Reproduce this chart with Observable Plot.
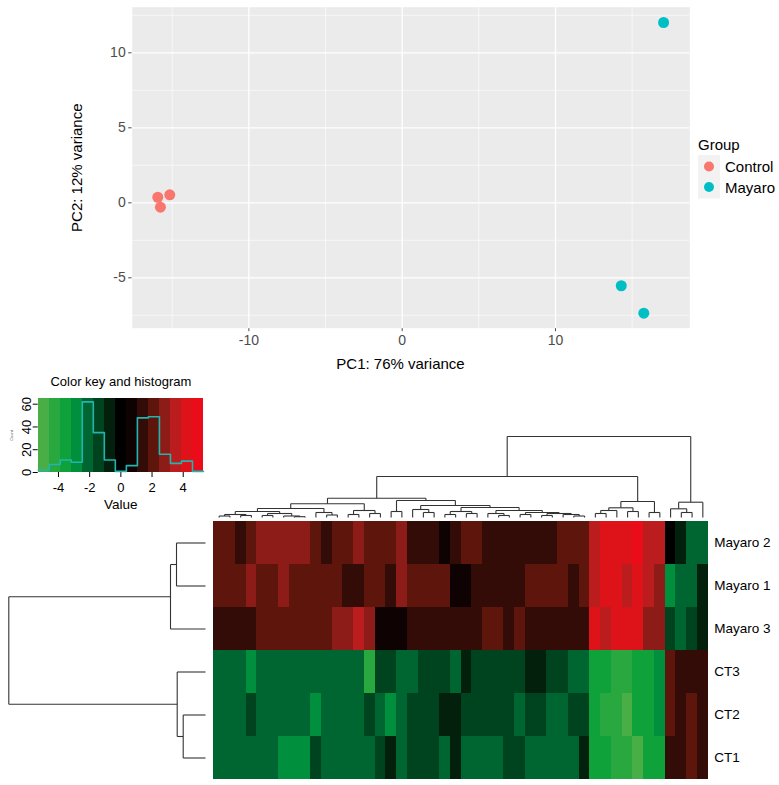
<!DOCTYPE html>
<html>
<head>
<meta charset="utf-8">
<script src="https://cdn.jsdelivr.net/npm/d3@7"></script>
<script src="https://cdn.jsdelivr.net/npm/@observablehq/plot@0.6"></script>
<style>
  html, body { margin: 0; padding: 0; background: #ffffff; }
  #fig { position: relative; width: 779px; height: 785px; overflow: hidden; }
  #fig > * { position: absolute; }
</style>
</head>
<body>
<div id="fig"></div>
<script>
// ---------- PCA of the six samples ----------
const pcaGroup = ["Control", "Control", "Control", "Mayaro", "Mayaro", "Mayaro"];
const pc1 = [-15.94, -15.77, -15.16, 17.05, 14.29, 15.76];
const pc2 = [0.37, -0.29, 0.53, 12.02, -5.53, -7.36];
const groups = ["Control", "Mayaro"];
const groupColors = ["#F8766D", "#00BFC4"];
const pcaMajorX = [-10, 0, 10];
const pcaMinorX = [-15, -5, 5, 15];
const pcaMajorY = [-5, 0, 5, 10];
const pcaMinorY = [-7.5, -2.5, 2.5, 7.5, 12.5];

// ---------- heatmap: log2 fold changes, rows top to bottom ----------
const rowNames = ["Mayaro 2", "Mayaro 1", "Mayaro 3", "CT3", "CT2", "CT1"];
const mayaro2 = [2.1,2.1,1.4,2.1,2.8,2.8,2.8,2.8,2.8,2.1, 1.4,2.1,2.1,2.8,2.1,2.1,2.1,2.8,1.4,1.4, 1.4,0.7,1.4,2.1,2.1,1.4,1.4,1.4,1.4,1.4, 1.4,1.4,2.1,2.1,2.1,3.5,4.2,4.2,4.2,4.9, 3.5,3.5,0.0,-0.7,-2.1,-2.1];
const mayaro1 = [2.1,2.1,2.1,2.8,2.1,2.1,2.8,2.1,2.1,2.1, 2.1,2.1,1.4,1.4,2.1,2.1,1.4,2.8,2.1,2.1, 2.1,2.1,0.7,0.7,1.4,1.4,1.4,1.4,1.4,2.1, 2.1,2.1,2.1,1.4,2.1,3.5,4.2,4.2,3.5,4.2, 3.5,2.8,-2.8,-2.1,-2.1,-0.7];
const mayaro3 = [1.4,1.4,1.4,1.4,2.1,2.1,2.1,2.1,2.1,2.1, 2.1,2.8,2.8,3.5,2.8,0.7,0.7,0.7,1.4,1.4, 1.4,1.4,1.4,1.4,1.4,2.1,2.1,1.4,2.1,1.4, 1.4,1.4,1.4,1.4,1.4,4.2,3.5,4.2,4.2,4.2, 2.8,2.8,-1.4,-2.1,-1.4,-0.7];
const ct3 = [-2.1,-2.1,-2.1,-2.8,-2.1,-2.1,-2.1,-2.1,-2.1,-2.1, -2.1,-2.1,-2.1,-2.1,-4.2,-1.4,-1.4,-2.1,-2.1,-1.4, -1.4,-1.4,-2.1,-0.7,-1.4,-1.4,-1.4,-1.4,-1.4,-0.7, -0.7,-1.4,-1.4,-2.1,-2.1,-3.5,-3.5,-4.2,-4.2,-3.5, -3.5,-2.8,2.1,1.4,1.4,1.4];
const ct2 = [-2.1,-2.1,-2.1,-1.4,-2.1,-2.1,-2.1,-2.1,-2.1,-2.8, -2.1,-2.1,-2.1,-2.1,-1.4,-2.1,-2.8,-2.1,-1.4,-1.4, -1.4,-0.7,-0.7,-1.4,-1.4,-1.4,-1.4,-1.4,-2.1,-1.4, -1.4,-2.1,-2.1,-1.4,-1.4,-3.5,-4.2,-4.2,-4.9,-3.5, -3.5,-2.8,2.1,1.4,2.1,1.4];
const ct1 = [-2.1,-2.1,-2.1,-2.1,-2.1,-2.1,-2.8,-2.8,-2.8,-1.4, -2.1,-2.1,-2.1,-2.1,-2.1,-1.4,-0.7,-2.1,-1.4,-1.4, -1.4,-2.1,-0.7,-2.1,-2.1,-2.1,-2.1,-1.4,-1.4,-2.1, -2.1,-2.1,-2.1,-2.1,-0.7,-3.5,-3.5,-4.2,-4.2,-4.9, -3.5,-3.5,1.4,1.4,2.1,1.4];
const rowValues = [mayaro2, mayaro1, mayaro3, ct3, ct2, ct1];

// colour key: 16 breaks, 15 colours from green through black to red
const keyBreaks = d3.range(16).map(i => -5.3 + i * 10.6 / 15);
const keyColors = ["#48AE45","#28A83F","#0FA23B","#008F3C","#006631","#00441F","#03200C","#000000",
                   "#0E0302","#330C07","#5E150B","#8D1B17","#BB1C1E","#DE1219","#EA0D19"];
const keyTicksX = [-4, -2, 0, 2, 4];
const keyTicksY = [0, 20, 40, 60];

// column dendrogram: [merge height, left, right]; leaves are column indices
const colTree =
  [81,
    [41,
      [19.3,
        [13.7,
          [9, [6, [3, [1.5, 0, 1], [2, 2, 3]], [4, [2, 4, 5], [1.5, 6, [0.8, 7, 8]]]], [5, 9, [2.5, 10, 11]]],
          [7, [3, 12, 13], [4, 14, 15]]],
        [17,
          [6, 16, 17],
          [12, [8, 18, [5, 19, 20]],
               [10, [6, [3, 21, 22], [4, 23, 24]],
                    [7, [4, 25, [2, 26, 27]], [5, [3, 28, 29], [4, [2, 30, 31], [3, 32, [1.5, 33, 34]]]]]]]]],
      [16, [9.7, [7, [4, 35, 36], 37], [6, 38, 39]], [5, 40, 41]]],
    [15.3, [8.7, 42, [5, 43, 44]], 45]];

// row dendrogram over row indices (0 = Mayaro 2 ... 5 = CT1)
const rowTree = [196.7, [35, [29, 0, 1], 2], [28.3, 3, [22.3, 4, 5]]];

// ---------- helpers ----------
const FONT = "'Liberation Sans', Arial, Helvetica, sans-serif";
const baseStyle = {background: "transparent", fontFamily: FONT, overflow: "visible"};
const centred = {textAnchor: "middle", lineAnchor: "middle"};

function treeSegments(node, segs) {
  if (typeof node === "number") return {pos: node + 0.5, h: 0};
  const [h, a, b] = node;
  const L = treeSegments(a, segs), R = treeSegments(b, segs);
  segs.push({p1: L.pos, h1: L.h, p2: L.pos, h2: h});
  segs.push({p1: R.pos, h1: R.h, p2: R.pos, h2: h});
  segs.push({p1: L.pos, h1: h, p2: R.pos, h2: h});
  return {pos: (L.pos + R.pos) / 2, h};
}

const fig = document.getElementById("fig");
function place(node, left, top) {
  node.style.left = left + "px";
  node.style.top = top + "px";
  fig.appendChild(node);
}

// ---------- PCA scatter ----------
const pca = pcaGroup.map((g, i) => ({group: g, pc1: pc1[i], pc2: pc2[i]}));
const pcaPlot = Plot.plot({
  width: 779, height: 375,
  marginLeft: 131.7, marginRight: 89.7, marginTop: 6.7, marginBottom: 47.3,
  style: {...baseStyle, fontSize: "14px", color: "#4D4D4D"},
  x: {domain: [-17.61, 18.76], ticks: pcaMajorX, tickSize: 3.5, tickPadding: 3, tickFormat: d => String(d), label: null},
  y: {domain: [-8.36, 13.04], ticks: pcaMajorY, tickSize: 3.5, tickPadding: 3, tickFormat: d => String(d), label: null},
  color: {domain: groups, range: groupColors},
  marks: [
    Plot.frame({fill: "#EBEBEB", stroke: null}),
    Plot.ruleX(pcaMinorX, {stroke: "white", strokeWidth: 0.6}),
    Plot.ruleY(pcaMinorY, {stroke: "white", strokeWidth: 0.6}),
    Plot.ruleX(pcaMajorX, {stroke: "white", strokeWidth: 1.3}),
    Plot.ruleY(pcaMajorY, {stroke: "white", strokeWidth: 1.3}),
    Plot.dot(pca, {x: "pc1", y: "pc2", fill: "group", r: 5.5}),
    Plot.text(["PC1: 76% variance"], {text: d => d, frameAnchor: "bottom", ...centred, dx: -10.5, dy: 35.5, fontSize: 15, fill: "#000"}),
    Plot.text(["PC2: 12% variance"], {text: d => d, frameAnchor: "left", ...centred, dx: -55, rotate: -90, fontSize: 15, fill: "#000"})
  ]
});
place(pcaPlot, 0, 0);

// legend for the PCA groups
const legend = document.createElementNS("http://www.w3.org/2000/svg", "svg");
legend.setAttribute("width", 81);
legend.setAttribute("height", 70);
legend.innerHTML = `
  <text x="0" y="16" font-family="${FONT}" font-size="15" fill="#000">Group</text>
  <rect x="0" y="21" width="22" height="43.5" fill="#F2F2F2"></rect>
  ${groups.map((g, i) => `
    <circle cx="11" cy="${32.5 + i * 20.5}" r="5" fill="${groupColors[i]}"></circle>
    <text x="27" y="${38 + i * 20.5}" font-family="${FONT}" font-size="15" fill="#000">${g}</text>`).join("")}
`;
place(legend, 698, 134);

// ---------- colour key and histogram ----------
const cells = [];
rowValues.forEach((vals, r) => vals.forEach((v, c) => cells.push({row: rowNames[r], col: c, value: v})));

const bins = d3.bin().domain([keyBreaks[0], keyBreaks[15]]).thresholds(keyBreaks.slice(1, -1))(cells.map(d => d.value));
const histPts = bins.map(b => ({x: b.x0, count: b.length}));
histPts.push({x: bins[bins.length - 1].x1, count: bins[bins.length - 1].length});
const keyBands = keyBreaks.slice(0, -1).map((b, i) => ({x1: b, x2: keyBreaks[i + 1], mid: (b + keyBreaks[i + 1]) / 2}));

const colorScale = {type: "threshold", domain: keyBreaks.slice(1, -1), range: keyColors};

const keyPlot = Plot.plot({
  width: 215, height: 145,
  marginLeft: 37.7, marginRight: 12, marginTop: 28, marginBottom: 43,
  style: {...baseStyle, fontSize: "13px", color: "#000"},
  x: {domain: [keyBreaks[0], keyBreaks[15]], ticks: keyTicksX, tickSize: 5, tickPadding: 5, tickFormat: d => String(d), label: null},
  y: {domain: [0, 65], ticks: keyTicksY, tickSize: 5, tickPadding: 2, tickRotate: -90, tickFormat: d => String(d), label: null},
  color: colorScale,
  marks: [
    Plot.rect(keyBands, {x1: "x1", x2: "x2", y1: 0, y2: 65, fill: "mid", shapeRendering: "crispEdges"}),
    Plot.line(histPts, {x: "x", y: "count", curve: "step-after", stroke: "#22B5B0", strokeWidth: 1.6}),
    Plot.text(["Color key and histogram"], {text: d => d, frameAnchor: "top", ...centred, dy: -17, fontSize: 13, fill: "#000"}),
    Plot.text(["Value"], {text: d => d, frameAnchor: "bottom", ...centred, dy: 32.5, fontSize: 13.5, fill: "#000"}),
    Plot.text(["Count"], {text: d => d, frameAnchor: "left", ...centred, dx: -26, rotate: -90, fontSize: 4, fill: "#555"})
  ]
});
place(keyPlot, 0, 370);

// ---------- column dendrogram ----------
const colSegs = [];
treeSegments(colTree, colSegs);
const colDendro = Plot.plot({
  width: 779, height: 95,
  marginLeft: 213.3, marginRight: 71.3, marginTop: 11, marginBottom: 3,
  style: baseStyle,
  x: {domain: [0, 46], axis: null},
  y: {domain: [0, 81], axis: null},
  marks: [
    Plot.link(colSegs, {x1: "p1", y1: "h1", x2: "p2", y2: "h2", stroke: "#333", strokeWidth: 1.1})
  ]
});
place(colDendro, 0, 425);

// ---------- row dendrogram ----------
const rowSegs = [];
treeSegments(rowTree, rowSegs);
const rowDendro = Plot.plot({
  width: 213, height: 266,
  marginLeft: 8.3, marginRight: 8, marginTop: 2, marginBottom: 6,
  style: baseStyle,
  x: {domain: [196.7, 0], axis: null},
  y: {domain: [6, 0], axis: null},
  marks: [
    Plot.link(rowSegs, {x1: "h1", y1: "p1", x2: "h2", y2: "p2", stroke: "#333", strokeWidth: 1.1})
  ]
});
place(rowDendro, 0, 519);

// ---------- heatmap ----------
const heat = Plot.plot({
  width: 779, height: 266,
  marginLeft: 213.3, marginRight: 71.3, marginTop: 2, marginBottom: 6,
  style: {...baseStyle, fontSize: "13.5px", color: "#000"},
  x: {type: "band", domain: d3.range(46), padding: 0, round: false, axis: null},
  y: {type: "band", domain: rowNames, padding: 0, round: false, axis: "right", tickSize: 0, tickPadding: 6, label: null},
  color: colorScale,
  marks: [
    Plot.cell(cells, {x: "col", y: "row", fill: "value", inset: 0, shapeRendering: "crispEdges"})
  ]
});
place(heat, 0, 519);
</script>
</body>
</html>
